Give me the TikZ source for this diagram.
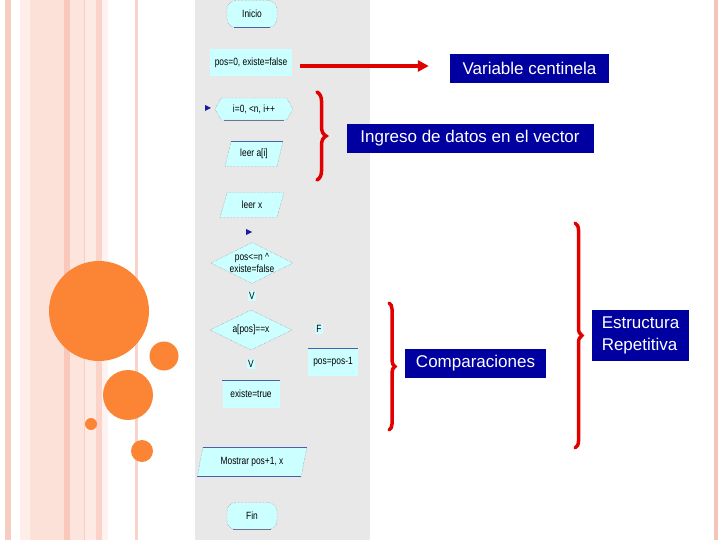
\documentclass[tikz,border=0pt]{standalone}
\usepackage{fontspec}
\setmainfont{Liberation Sans}
\newfontfamily\fcfam[FakeStretch=0.8]{Liberation Sans}
\usetikzlibrary{shapes.geometric,shapes.misc,shapes.symbols,decorations.pathreplacing,arrows.meta}
\definecolor{fcfill}{HTML}{CCFFFF}
\definecolor{fcline}{HTML}{4A5FA8}
\definecolor{panel}{HTML}{E8E8E8}
\definecolor{orng}{HTML}{FC8535}
\definecolor{boxblue}{HTML}{0000A0}
\definecolor{redb}{HTML}{E00000}
\definecolor{mkblue}{HTML}{1A1AA0}
\definecolor{sA}{HTML}{F8CDC1}
\definecolor{sB}{HTML}{FDEEE9}
\definecolor{sC}{HTML}{FCE1D9}
\definecolor{sD}{HTML}{F9C8BA}
\definecolor{sE}{HTML}{FDE5DE}
\definecolor{sF}{HTML}{F5CFC5}
\definecolor{sG}{HTML}{FDEAE4}
\definecolor{sH}{HTML}{FBD3C8}
\definecolor{sI}{HTML}{FEF3F0}
\definecolor{sJ}{HTML}{F7D3C9}
\definecolor{edge}{HTML}{F5C5B8}
\newcommand{\fcf}{\fcfam\fontsize{10.5}{11.5}\selectfont}
\newcommand{\lbf}{\fontsize{17}{19}\selectfont}
\tikzset{
  fcbase/.style={fill=fcfill, font=\fcf, inner sep=1pt},
  term/.style={fcbase, draw=gray, densely dotted, rounded corners=9pt, minimum width=50pt, minimum height=27pt},
  procbox/.style={fcbase, minimum width=57pt, minimum height=27pt},
  hexa/.style={fcbase, draw=gray, densely dotted, signal, signal to=east and west, signal pointer angle=120, minimum width=78pt, minimum height=22pt},
  para/.style={fcbase, draw=gray, densely dotted, trapezium, trapezium left angle=72, trapezium right angle=108, trapezium stretches=true, minimum width=58pt, minimum height=25pt},
  decis/.style={fcbase, draw=gray, densely dotted, diamond, aspect=2, minimum width=82pt, minimum height=40pt, align=center, inner sep=0pt},
  tlabel/.style={fill=fcfill, font=\fcf, inner sep=1pt},
  fcl/.style={draw=fcline, line width=1pt},
  lbl/.style={fill=boxblue, text=white, font=\lbf, inner sep=0pt},
  redarrow/.style={draw=redb, line width=3.5pt, -{Triangle[length=11pt,width=11pt]}},
  redbrace/.style={draw=redb, line width=3.5pt, line cap=round, decorate},
}
\begin{document}
\begin{tikzpicture}[x=1pt,y=-1pt]
\useasboundingbox (0,0) rectangle (720,540);
\fill[white] (0,0) rectangle (720,540);
% left stripes
\fill[sA] (5,0) rectangle (11,540);
\fill[sB] (20,0) rectangle (30,540);
\fill[sC] (30,0) rectangle (64,540);
\fill[sD] (64,0) rectangle (70,540);
\fill[sE] (70,0) rectangle (84,540);
\fill[sF] (84,0) rectangle (85,540);
\fill[sG] (85,0) rectangle (96,540);
\fill[sH] (96,0) rectangle (102,540);
\fill[sI] (102,0) rectangle (108,540);
\fill[sJ] (135,0) rectangle (138,540);
% grey panel and right edge
\fill[panel] (195,0) rectangle (370,540);
\fill[edge] (714,0) rectangle (718,540);
% circles
\fill[orng] (99,311) circle[radius=50pt];
\fill[orng] (164,356) circle[radius=14.5pt];
\fill[orng] (128,395) circle[radius=25pt];
\fill[orng] (91,424) circle[radius=6pt];
\fill[orng] (142,451) circle[radius=11pt];

% flowchart
\node[term] (ini) at (252,14) {Inicio};
\node[procbox, minimum width=82pt] (initv) at (251,63) {pos=0, existe=false};
\node[hexa] (loop) at (254,109) {i=0, <n, i++};
\node[para] (leera) at (254,154) {leer a[i]};
\node[para, minimum width=64pt] (leerx) at (252,205) {leer x};
\node[decis] (cond) at (252,263) {pos<=n \textasciicircum\\existe=false};
\node[tlabel] (v1) at (252,296) {V};
\node[decis] (cmp) at (251,330) {a[pos]==x};
\node[tlabel] (f1) at (319,329) {F};
\node[procbox, minimum width=50pt] (inc) at (333,362) {pos=pos-1};
\node[tlabel] (v2) at (251,364) {V};
\node[procbox] (found) at (251,394) {existe=true};
\node[para, minimum width=110pt, minimum height=29pt] (show) at (252,462) {Mostrar pos+1, x};
\node[term] (fin) at (252,516) {Fin};

% blue edge lines
\draw[fcl] ([xshift=7pt]ini.south west) -- ([xshift=-7pt]ini.south east);
\draw[fcl, draw=gray!70!fcline] ([xshift=-30pt]loop.south) -- ([xshift=30pt]loop.south);
\draw[fcl] (leera.top left corner) -- (leera.top right corner);
\draw[fcl] (inc.north west) -- (inc.north east);
\draw[fcl] (found.north west) -- (found.north east);
\draw[fcl] (show.top left corner) -- (show.top right corner);
\draw[fcl] (show.bottom left corner) -- (show.bottom right corner);
\draw[fcl, draw=gray!70!fcline] ([xshift=6pt]fin.south west) -- ([xshift=-6pt]fin.south east);

% small markers
\fill[mkblue] (205,105) -- (211,108) -- (205,111) -- cycle;
\fill[mkblue] (246,229) -- (252,232) -- (246,235) -- cycle;

% labels
\node[lbl, minimum width=159pt, minimum height=29pt] (varc) at (529.5,68.5) {Variable centinela};
\node[lbl, minimum width=247pt, minimum height=29pt] (ingr) at (470,138.5) {Ingreso de datos en el vector};
\node[lbl, minimum width=141pt, minimum height=29pt] (comp) at (475.5,363.5) {Comparaciones};
\node[lbl, minimum width=97pt, minimum height=51pt, align=left, font=\fontsize{17}{22}\selectfont] (estr) at (640.5,335.5) {Estructura\\Repetitiva};

% red arrow
\coordinate (aend) at ([xshift=-21pt]varc.west);
\draw[redarrow] ([xshift=8pt,yshift=-3pt]initv.east) -- ([yshift=-3pt]initv.east -| aend);

% braces
\coordinate (b1t) at (317,92);
\coordinate (b1b) at (317,180);
\coordinate (b2t) at (389,303);
\coordinate (b2b) at (389,430);
\coordinate (b3t) at (575,223);
\coordinate (b3b) at (575,448);
\draw[redbrace, decoration={brace, amplitude=9pt}] (b1t) -- (b1b);
\draw[redbrace, decoration={brace, amplitude=6pt}] (b2t) -- (b2b);
\draw[redbrace, decoration={brace, amplitude=7pt}] (b3t) -- (b3b);
\end{tikzpicture}
\end{document}
